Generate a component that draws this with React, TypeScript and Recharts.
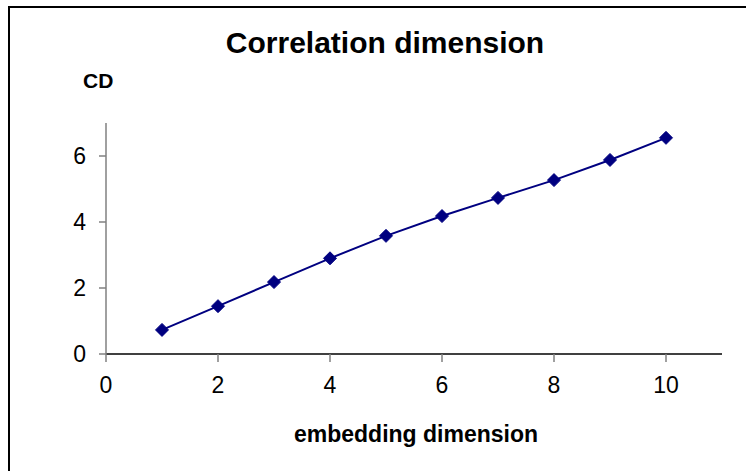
import { Line, LineChart, XAxis, YAxis } from "recharts";

// embedding dimension vs correlation dimension
const dims = [1, 2, 3, 4, 5, 6, 7, 8, 9, 10];
const cd = [0.73, 1.45, 2.18, 2.9, 3.58, 4.18, 4.73, 5.27, 5.88, 6.55];
const xTicks = [0, 2, 4, 6, 8, 10];
const yTicks = [0, 2, 4, 6];

const data = dims.map((d, i) => ({ dim: d, cd: cd[i] }));

const font = "'Liberation Sans', Arial, sans-serif";
const navy = "#000080";

function Diamond(props: any) {
  const { cx, cy } = props;
  if (cx == null || cy == null) return null;
  const r = 6.5;
  return (
    <polygon
      points={`${cx},${cy - r} ${cx + r},${cy} ${cx},${cy + r} ${cx - r},${cy}`}
      fill={navy}
      stroke={navy}
    />
  );
}

export default function App() {
  return (
    <div
      style={{
        position: "absolute",
        left: 0,
        top: 0,
        width: 746,
        height: 471,
        background: "#fff",
        overflow: "hidden",
        fontFamily: font,
      }}
    >
      <div
        style={{
          position: "absolute",
          left: 8,
          top: 6,
          width: 800,
          height: 600,
          borderTop: "2px solid #000",
          borderLeft: "2px solid #000",
        }}
      />
      <div
        style={{
          position: "absolute",
          left: 0,
          width: 770,
          top: 26,
          textAlign: "center",
          fontSize: 30,
          fontWeight: "bold",
        }}
      >
        Correlation dimension
      </div>
      <div
        style={{
          position: "absolute",
          left: 83,
          top: 69,
          fontSize: 21,
          fontWeight: "bold",
        }}
      >
        CD
      </div>
      <div
        style={{
          position: "absolute",
          left: 0,
          width: 832,
          top: 421,
          textAlign: "center",
          fontSize: 23,
          fontWeight: "bold",
        }}
      >
        embedding dimension
      </div>
      <div style={{ position: "absolute", left: 0, top: 0 }}>
        <LineChart
          width={746}
          height={471}
          data={data}
          margin={{ top: 123, right: 24, bottom: 57, left: 0 }}
        >
          <XAxis
            type="number"
            dataKey="dim"
            domain={[0, 11]}
            ticks={xTicks}
            interval={0}
            height={60}
            tickSize={8}
            tickMargin={15}
            axisLine={{ stroke: "#000", strokeWidth: 1.5 }}
            tickLine={{ stroke: "#808080", strokeWidth: 1.5 }}
            tick={{ fill: "#000", fontSize: 23, fontFamily: font }}
          />
          <YAxis
            type="number"
            domain={[0, 7]}
            ticks={yTicks}
            interval={0}
            width={106}
            tickSize={7}
            tickMargin={13}
            axisLine={{ stroke: "#808080", strokeWidth: 1.5 }}
            tickLine={{ stroke: "#808080", strokeWidth: 1.5 }}
            tick={{ fill: "#000", fontSize: 23, fontFamily: font }}
          />
          <Line
            type="linear"
            dataKey="cd"
            stroke={navy}
            strokeWidth={2}
            dot={<Diamond />}
            activeDot={false}
            isAnimationActive={false}
          />
        </LineChart>
      </div>
    </div>
  );
}
